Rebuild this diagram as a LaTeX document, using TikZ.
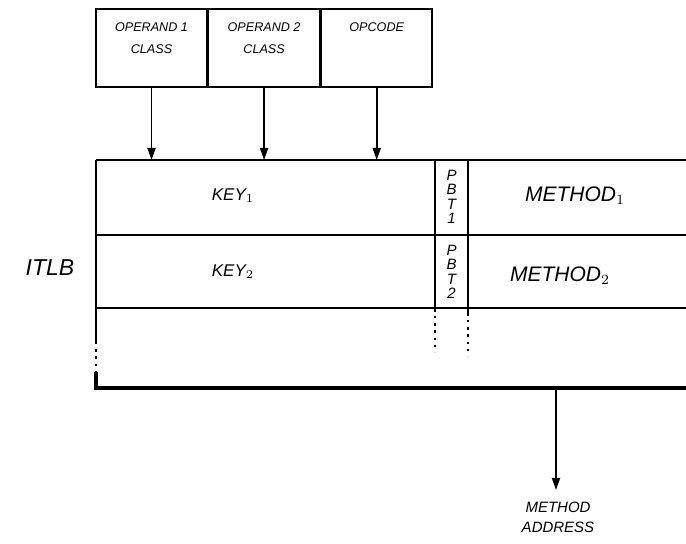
\documentclass[tikz,border=0pt]{standalone}
\usepackage{fontspec}
\setmainfont{Liberation Sans}
\usepackage{tikz}
\usetikzlibrary{arrows.meta,positioning,calc}

\begin{document}
\begin{tikzpicture}[
  x=0.5pt, y=-0.5pt,
  every node/.style={font=\itshape, inner sep=0pt},
  field/.style={draw, line width=0.8pt, minimum width=55.5pt, minimum height=39pt},
  fieldtext/.style={font=\itshape\fontsize{6.3}{8}\selectfont, align=center, anchor=north, yshift=-7pt},
  rule/.style={line width=0.9pt},
  dotrule/.style={line width=0.9pt, dash pattern=on 1.2pt off 2.4pt},
  keytext/.style={font=\itshape\fontsize{8.5}{10}\selectfont},
  methtext/.style={font=\itshape\fontsize{10.5}{12}\selectfont},
  pbtext/.style={font=\itshape\fontsize{7.5}{7.2}\selectfont, align=center},
  feed/.style={line width=0.9pt, -{Triangle[length=6pt, width=4pt]}}
]
\useasboundingbox (0,0) rectangle (686,544);

% instruction fields
\node[field, label={[fieldtext]north:OPERAND 1\\[3pt]CLASS}] (op1) at (151.5,48) {};
\node[field, right=0pt of op1, label={[fieldtext]north:OPERAND 2\\[3pt]CLASS}] (op2) {};
\node[field, right=0pt of op2, label={[fieldtext]north:OPCODE}] (opc) {};

% ITLB table
\coordinate (tl) at (96,160);
\coordinate (bl) at (96,388);
\draw[rule] (tl) -- (686,160);
\draw[rule] (96,235) -- (686,235);
\draw[rule] (96,308) -- (686,308);
\draw[rule] (tl) -- (96,342);
\draw[dotrule] (96,342) -- (96,372);
\draw[line width=1.6pt] (96,372) -- (bl) -- (686,388);
\draw[rule] (435,160) -- (435,312);
\draw[rule] (468,160) -- (468,316);
\draw[dotrule] (435,316) -- (435,352);
\draw[dotrule] (468,320) -- (468,356);

\node[keytext] (key1) at (233,196) {KEY$_1$};
\node[keytext] (key2) at (233,272) {KEY$_2$};
\node[pbtext] (pb1) at (451.5,197) {P\\B\\T\\1};
\node[pbtext] (pb2) at (451.5,272) {P\\B\\T\\2};
\node[methtext] (meth1) at (575,196) {METHOD$_1$};
\node[methtext] (meth2) at (560,276) {METHOD$_2$};
\node[font=\itshape\fontsize{11.5}{13}\selectfont] (itlb) at (50,268) {ITLB};

% inputs into the table
\foreach \f in {op1, op2, opc}
  \draw[feed] (\f.south) -- (\f.south |- tl);

% output
\node[font=\itshape\fontsize{7.5}{10}\selectfont, align=center, anchor=north] (addr) at (558,502) {METHOD\\ADDRESS};
\coordinate (out) at (556,388);
\draw[feed] (out) -- ($(out |- addr.north)+(0,-12)$);
\end{tikzpicture}
\end{document}
